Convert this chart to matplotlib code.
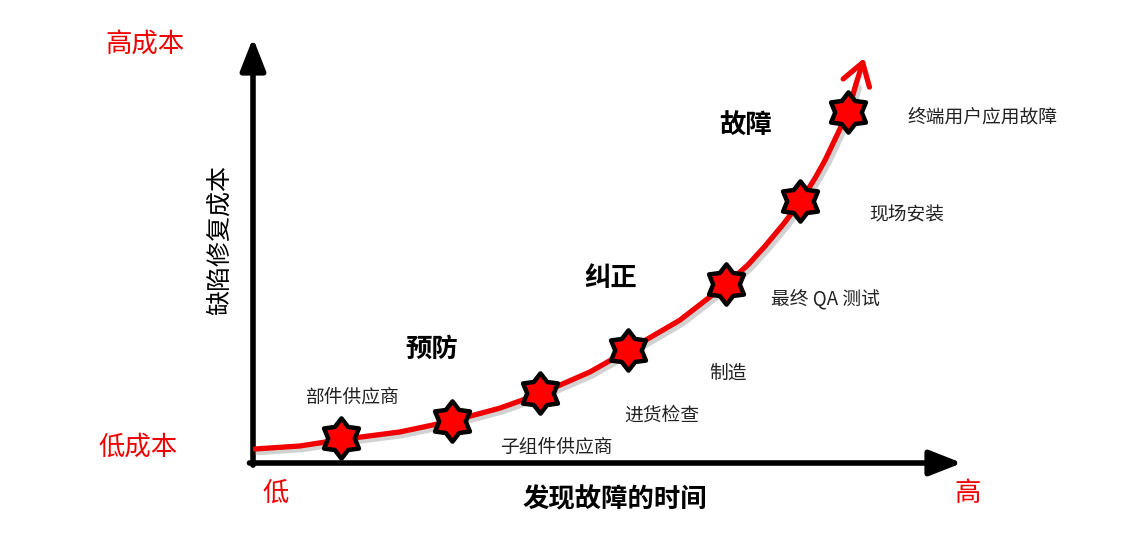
import matplotlib
matplotlib.use("Agg")
import matplotlib.pyplot as plt
import matplotlib.patheffects as pe
import numpy as np
from matplotlib.path import Path

plt.rcParams["font.family"] = ["Noto Sans CJK SC", "DejaVu Sans"]

# =========================================================
# DATA
# =========================================================

# curve (time, cost), axes run 0..10
curve_time = [0.03, 0.66, 1.24, 2.07, 2.81, 3.48, 4.05, 4.75, 5.29,
              6.02, 6.67, 6.98, 7.22, 7.48, 7.72, 7.93, 8.07, 8.39,
              8.50, 8.62]
curve_cost = [0.33, 0.40, 0.55, 0.73, 0.99, 1.29, 1.63, 2.14, 2.65,
              3.36, 4.20, 4.66, 5.10, 5.62, 6.15, 6.71, 7.13, 8.25,
              8.89, 9.53]

stage_names = ["部件供应商", "子组件供应商", "进货检查", "制造",
               "最终 QA 测试", "现场安装", "终端用户应用故障"]
stage_time = [1.24, 2.81, 4.05, 5.29, 6.67, 7.72, 8.39]
stage_cost = [0.59, 0.99, 1.65, 2.66, 4.21, 6.16, 8.26]

# label offsets from each star, pixels
label_dx = [11, 104, 122, 100, 100, 106, 135]
label_dy = [41, -26, -22, -23, -16, -14, -5]

phase_names = ["预防", "纠正", "故障"]
phase_time = [2.52, 5.05, 6.95]
phase_cost = [2.68, 4.33, 7.95]

RED = "#f00000"

# =========================================================
# FIGURE
# =========================================================

fig = plt.figure(figsize=(11.37, 5.46), dpi=100)

ax = fig.add_axes([253 / 1137, 83 / 546, 709 / 1137, 425 / 546])

ax.set_xlim(0, 10)
ax.set_ylim(0, 10)
ax.axis("off")

# axes arrows
arrow_kw = dict(arrowstyle="-|>,head_length=1.4,head_width=0.55",
                color="black", lw=4, mutation_scale=14,
                shrinkA=0, shrinkB=0)

ax.annotate("", xy=(0, 10), xytext=(0, -0.05),
            arrowprops=arrow_kw, annotation_clip=False)
ax.annotate("", xy=(10, 0), xytext=(-0.05, 0),
            arrowprops=arrow_kw, annotation_clip=False)

# =========================================================
# CURVE
# =========================================================

shadow = [pe.SimpleLineShadow(offset=(2, -2), shadow_color="gray",
                              alpha=0.35, linewidth=5), pe.Normal()]

ax.plot(curve_time[:-1], curve_cost[:-1], color=RED, lw=3.8,
        solid_capstyle="round", solid_joinstyle="round",
        path_effects=shadow, zorder=3)

ax.annotate("", xy=(curve_time[-1], curve_cost[-1]),
            xytext=(curve_time[-2], curve_cost[-2]),
            arrowprops=dict(arrowstyle="->,head_length=0.7,head_width=0.45",
                            color=RED, lw=3.8, mutation_scale=22,
                            shrinkA=0, shrinkB=0),
            zorder=3, annotation_clip=False)

# six point star marker
ang = np.deg2rad(90 + 30 * np.arange(12))
rad = np.where(np.arange(12) % 2 == 0, 1.0, 0.66)
verts = np.column_stack([rad * np.cos(ang), rad * np.sin(ang)])
verts = np.vstack([verts, verts[:1]])
star = Path(verts, closed=True)

ax.plot(stage_time, stage_cost, linestyle="none", marker=star,
        markersize=29, markerfacecolor="#ff0000",
        markeredgecolor="black", markeredgewidth=3.2, zorder=4)

# =========================================================
# TEXT
# =========================================================

for name, x, y, dx, dy in zip(stage_names, stage_time, stage_cost,
                              label_dx, label_dy):

    ax.annotate(name, xy=(x, y), xytext=(dx, dy),
                textcoords="offset pixels", ha="center", va="center",
                fontsize=13.5, color="#222222", annotation_clip=False)

for name, x, y in zip(phase_names, phase_time, phase_cost):

    ax.text(x, y, name, ha="center", va="center",
            fontsize=19, fontweight="bold", color="black")

ax.text(-1.52, 9.84, "高成本", ha="center", va="center",
        fontsize=19, color=RED)
ax.text(-1.62, 0.38, "低成本", ha="center", va="center",
        fontsize=19, color=RED)
ax.text(0.32, -0.71, "低", ha="center", va="center",
        fontsize=19, color=RED)
ax.text(10.08, -0.71, "高", ha="center", va="center",
        fontsize=19, color=RED)

ax.text(5.11, -0.87, "发现故障的时间", ha="center", va="center",
        fontsize=19, fontweight="bold", color="black")
ax.text(-0.47, 5.25, "缺陷修复成本", ha="center", va="center",
        rotation=90, fontsize=18, color="black")

fig.savefig("out.png", dpi=100)
